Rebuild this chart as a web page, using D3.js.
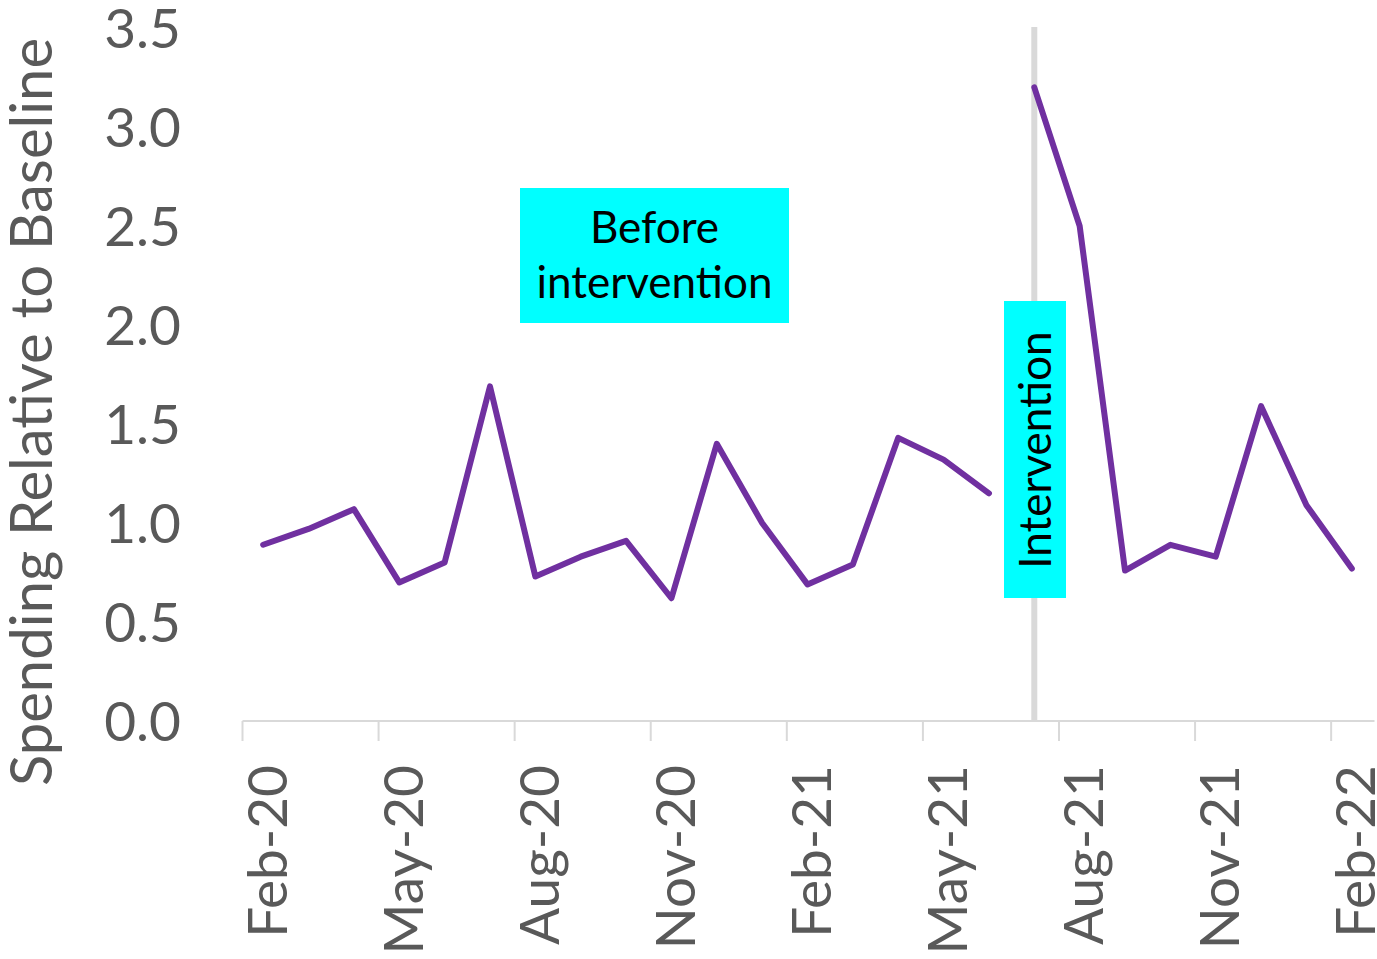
<!DOCTYPE html>
<html>
<head>
<meta charset="utf-8">
<script src="https://cdn.jsdelivr.net/npm/d3@7/dist/d3.min.js"></script>
<style>
  html, body { margin: 0; padding: 0; background: #fff; }
  svg { display: block; }
  text { font-family: Lato, "Open Sans", sans-serif; }
</style>
</head>
<body>
<svg id="chart" width="1377" height="959"></svg>
<script>
// Monthly categories, Feb-2020 through Feb-2022
const months = [
  "Feb-20","Mar-20","Apr-20","May-20","Jun-20","Jul-20","Aug-20","Sep-20","Oct-20","Nov-20","Dec-20",
  "Jan-21","Feb-21","Mar-21","Apr-21","May-21","Jun-21","Jul-21","Aug-21","Sep-21","Oct-21","Nov-21","Dec-21",
  "Jan-22","Feb-22"
];
// Spending relative to baseline; the series breaks between Jun-21 and Jul-21
const beforeValues = [0.89, 0.97, 1.07, 0.70, 0.80, 1.69, 0.73, 0.83, 0.91, 0.62, 1.40,
                      1.00, 0.69, 0.79, 1.43, 1.32, 1.15];
const afterValues  = [3.20, 2.50, 0.76, 0.89, 0.83, 1.59, 1.09, 0.77];
const yTicks = [0, 0.5, 1, 1.5, 2, 2.5, 3, 3.5];
const xTickLabels = ["Feb-20","May-20","Aug-20","Nov-20","Feb-21","May-21","Aug-21","Nov-21","Feb-22"];
const interventionMonth = "Jul-21";

const svg = d3.select("#chart");
const plotLeft = 240.5, plotRight = 1374.5, plotTop = 28, plotBottom = 721;

const x = d3.scaleBand().domain(months).range([plotLeft, plotRight]).paddingInner(0).paddingOuter(0);
const y = d3.scaleLinear().domain([0, 3.5]).range([plotBottom, plotTop]);
const cx = m => x(m) + x.bandwidth() / 2;

const beforeData = beforeValues.map((v, i) => ({ m: months[i], v }));
const afterData = afterValues.map((v, i) => ({ m: months[beforeValues.length + i], v }));

// Intervention marker line
svg.append("line")
  .attr("x1", cx(interventionMonth)).attr("x2", cx(interventionMonth))
  .attr("y1", y(3.5) - 1).attr("y2", plotBottom)
  .attr("stroke", "#d9d9d9").attr("stroke-width", 6);

// X axis: baseline plus ticks on quarter boundaries
const xAxisG = svg.append("g").attr("transform", `translate(0,${plotBottom})`);
xAxisG.append("line")
  .attr("x1", plotLeft + 2).attr("x2", plotRight).attr("y1", 0).attr("y2", 0)
  .attr("stroke", "#d9d9d9").attr("stroke-width", 2);
xAxisG.selectAll("line.tick").data(xTickLabels).enter().append("line")
  .attr("class", "tick")
  .attr("x1", d => x(d) + 2).attr("x2", d => x(d) + 2)
  .attr("y1", 0).attr("y2", 20)
  .attr("stroke", "#d9d9d9").attr("stroke-width", 2);
xAxisG.selectAll("text").data(xTickLabels).enter().append("text")
  .attr("transform", d => `translate(${cx(d)},${44}) rotate(-90)`)
  .attr("text-anchor", "end")
  .attr("dy", "0.43em")
  .attr("fill", "#595959")
  .attr("font-size", 55)
  .text(d => d);

// Y axis labels
svg.append("g").selectAll("text").data(yTicks).enter().append("text")
  .attr("x", 181).attr("y", d => y(d))
  .attr("dy", "0.36em")
  .attr("text-anchor", "end")
  .attr("fill", "#595959")
  .attr("font-size", 55)
  .text(d => d.toFixed(1));

svg.append("text")
  .attr("transform", `translate(52,${412}) rotate(-90)`)
  .attr("text-anchor", "middle")
  .attr("fill", "#595959")
  .attr("font-size", 58)
  .text("Spending Relative to Baseline");

// Series line
const line = d3.line().x(d => cx(d.m)).y(d => y(d.v));
[beforeData, afterData].forEach(data => {
  svg.append("path").datum(data)
    .attr("d", line)
    .attr("fill", "none")
    .attr("stroke", "#7030a0")
    .attr("stroke-width", 6)
    .attr("stroke-linejoin", "round")
    .attr("stroke-linecap", "round");
});

// Annotation boxes
const before = svg.append("g");
before.append("rect").attr("x", 520).attr("y", 188).attr("width", 269).attr("height", 135).attr("fill", "#00ffff");
before.append("text").attr("x", 654.5).attr("y", 243).attr("text-anchor", "middle")
  .attr("font-size", 44).attr("fill", "#000").text("Before");
before.append("text").attr("x", 654.5).attr("y", 298).attr("text-anchor", "middle")
  .attr("font-size", 44).attr("fill", "#000").text("intervention");

const interv = svg.append("g");
interv.append("rect").attr("x", 1004).attr("y", 301).attr("width", 62).attr("height", 297).attr("fill", "#00ffff");
interv.append("text")
  .attr("transform", `translate(${1035},${450}) rotate(-90)`)
  .attr("text-anchor", "middle").attr("dy", "0.36em")
  .attr("font-size", 44).attr("fill", "#000").text("Intervention");
</script>
</body>
</html>
